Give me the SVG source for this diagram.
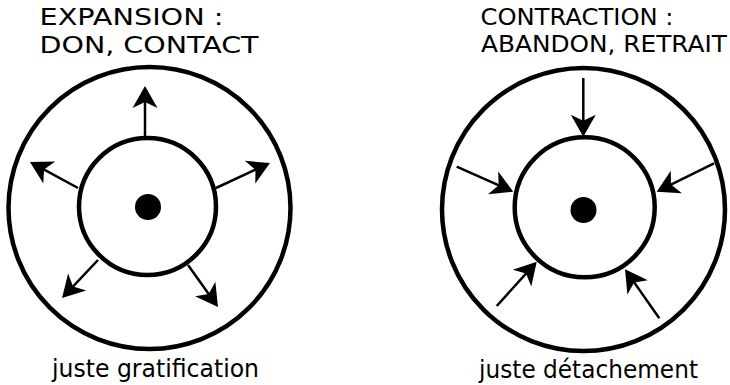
<svg xmlns="http://www.w3.org/2000/svg" width="730" height="385" viewBox="0 0 730 385">
  <style>
    .ring { fill: none; stroke: #000; stroke-width: 4.5; }
    .dot { fill: #000; }
    .arrow { fill: none; stroke: #000; stroke-width: 2.5; marker-end: url(#head); }
    .title { font-family: "DejaVu Sans", Verdana, sans-serif; font-size: 23px; fill: #000; }
    .caption { font-family: "DejaVu Sans", Verdana, sans-serif; font-size: 24px; fill: #000; }
  </style>
  <defs>
    <!-- notched filled arrowhead; tip sits 12px beyond the line end -->
    <marker id="head" markerUnits="userSpaceOnUse" viewBox="-12 -14 26 28" refX="0" refY="0" markerWidth="26" markerHeight="28" orient="auto">
      <path d="M12,0 L-10,-12.5 L-4,0 L-10,12.5 Z" fill="#000"/>
    </marker>
  </defs>

  <!-- Expansion -->
  <g id="expansion">
    <circle class="ring" cx="149.5" cy="208" r="141"/>
    <circle class="ring" cx="147.5" cy="206.5" r="68.5"/>
    <circle class="dot" cx="148" cy="207" r="13"/>
    <text class="title" x="39.5" y="25" textLength="184" lengthAdjust="spacingAndGlyphs">EXPANSION :</text>
    <text class="title" x="39.5" y="52.5" textLength="219" lengthAdjust="spacingAndGlyphs">DON, CONTACT</text>
    <text class="caption" x="52" y="377" textLength="207" lengthAdjust="spacingAndGlyphs">juste gratification</text>
  </g>

  <!-- Contraction -->
  <g id="contraction">
    <circle class="ring" cx="583.5" cy="209.5" r="141.5"/>
    <circle class="ring" cx="584.7" cy="207.3" r="70"/>
    <circle class="dot" cx="583.5" cy="210" r="13"/>
    <text class="title" x="480.5" y="24.5" textLength="193" lengthAdjust="spacingAndGlyphs">CONTRACTION :</text>
    <text class="title" x="481" y="52" textLength="246" lengthAdjust="spacingAndGlyphs">ABANDON, RETRAIT</text>
    <text class="caption" x="479" y="378" textLength="219" lengthAdjust="spacingAndGlyphs">juste détachement</text>
  </g>

  <g id="connectors">
    <!-- outward -->
    <line class="arrow" x1="145" y1="136" x2="145" y2="98"/>
    <line class="arrow" x1="78" y1="188" x2="40.5" y2="167.7"/>
    <line class="arrow" x1="216" y1="188" x2="259.1" y2="168"/>
    <line class="arrow" x1="98" y1="260" x2="70.3" y2="289.3"/>
    <line class="arrow" x1="188" y1="265" x2="211" y2="297.2"/>
    <!-- inward -->
    <line class="arrow" x1="583.3" y1="78" x2="583.3" y2="124.7"/>
    <line class="arrow" x1="456.7" y1="166.7" x2="502.3" y2="186.9"/>
    <line class="arrow" x1="714" y1="163.3" x2="667.4" y2="186.4"/>
    <line class="arrow" x1="496.7" y1="306" x2="528.7" y2="270.6"/>
    <line class="arrow" x1="659.3" y1="318.3" x2="631.9" y2="279.1"/>
  </g>
</svg>
